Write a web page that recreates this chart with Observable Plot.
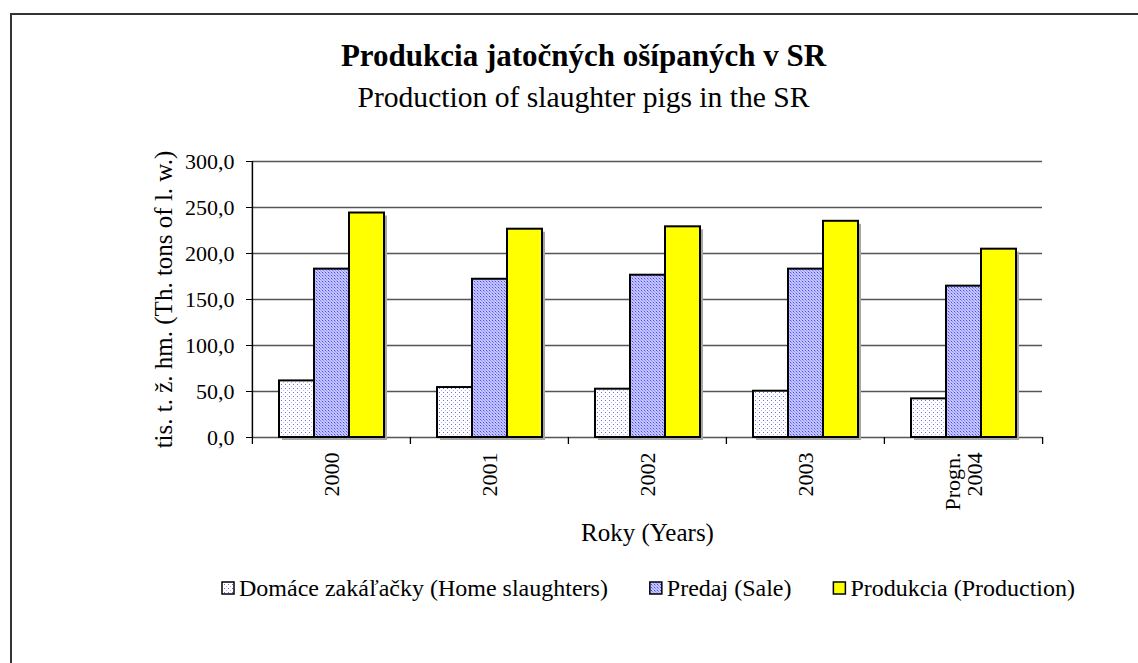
<!DOCTYPE html>
<html><head><meta charset="utf-8">
<script src="https://cdn.jsdelivr.net/npm/d3@7"></script>
<script src="https://cdn.jsdelivr.net/npm/@observablehq/plot@0.6"></script>
<style>
html,body{margin:0;padding:0;background:#fff;}
body{width:1138px;height:663px;position:relative;overflow:hidden;font-family:"Liberation Serif",serif;}
#border{position:absolute;left:10px;top:13px;width:1200px;height:700px;border-top:2px solid #333;border-left:2px solid #333;}
#head,#chart,#legend{position:absolute;left:0;}
#head{top:0}
#chart{top:140px}
#legend{top:560px}
svg text{font-family:"Liberation Serif",serif;}
</style></head><body>
<svg width="0" height="0" style="position:absolute;left:0;top:0"><defs>
<pattern id="patHome" width="4" height="4" patternUnits="userSpaceOnUse">
<rect width="4" height="4" fill="#ffffff"/>
<rect x="0" y="0" width="1" height="1" fill="#6a6aff"/>
<rect x="2" y="2" width="1" height="1" fill="#b4b4ff"/>
</pattern>
<pattern id="patSale" width="3" height="3" patternUnits="userSpaceOnUse">
<rect width="3" height="3" fill="#c6c6ff"/>
<rect x="0" y="0" width="1" height="1" fill="#4848ff"/>
<rect x="1" y="1" width="1" height="1" fill="#8888ff"/>
<rect x="2" y="2" width="1" height="1" fill="#a0a0ff"/>
</pattern>
</defs></svg>
<div id="border"></div>
<svg id="head" width="1138" height="140"></svg>
<div id="chart"></div>
<svg id="legend" width="1138" height="70"></svg>
<script>
const titleText = "Produkcia jatočných ošípaných v SR";
const subtitleText = "Production of slaughter pigs in the SR";
const xLabel = "Roky (Years)";
const yLabel = "tis. t. ž. hm. (Th. tons of l. w.)";
const years = ["2000", "2001", "2002", "2003", "Progn.\n2004"];
const series = ["Domáce zakáľačky (Home slaughters)", "Predaj (Sale)", "Produkcia (Production)"];
const homeSlaughters = [61.5, 54.3, 52.5, 50.3, 42.0];
const sale = [183.0, 172.0, 176.4, 183.0, 164.5];
const production = [244.0, 226.4, 229.0, 235.0, 204.7];
const yTicks = [0, 50, 100, 150, 200, 250, 300];
const seriesFills = ["url(#patHome)", "url(#patSale)", "#ffff00"];

const head = d3.select("#head");
head.append("text").attr("x", 583.5).attr("y", 66).attr("text-anchor", "middle")
  .attr("font-weight", "bold").attr("font-size", 31).text(titleText);
head.append("text").attr("x", 583.5).attr("y", 107).attr("text-anchor", "middle")
  .attr("font-size", 29.6).text(subtitleText);

const rows = years.flatMap((year, i) => [
  {year, series: series[0], value: homeSlaughters[i]},
  {year, series: series[1], value: sale[i]},
  {year, series: series[2], value: production[i]}
]);

const W = 1138, H = 420, mL = 251, mR = 96, mT = 21, mB = 123;
const bw = (W - mL - mR) / years.length;
const fmt = d => d.toFixed(1).replace(".", ",");

const chart = Plot.plot({
  width: W, height: H,
  marginLeft: mL, marginRight: mR, marginTop: mT, marginBottom: mB,
  style: {fontFamily: '"Liberation Serif", serif', fontSize: "22px", color: "#000", background: "transparent", overflow: "visible"},
  fx: {domain: years, padding: 0},
  x: {domain: series, paddingInner: 0, paddingOuter: 0.74, axis: null},
  y: {domain: [0, 300], axis: null},
  color: {domain: series, range: seriesFills},
  marks: [
    Plot.gridY(yTicks, {stroke: "#555", strokeOpacity: 1, strokeWidth: 1.3}),
    Plot.barY(rows, {fx: "year", x: "series", y: "value", fill: "#a6a6a6", dx: 3, dy: 3}),
    Plot.barY(rows, {fx: "year", x: "series", y: "value", fill: "series", stroke: "#000", strokeWidth: 2}),
    Plot.ruleX(years.slice(0, 1), {fx: d => d, x: null, y1: 0, y2: 300, dx: -bw / 2, stroke: "#000", strokeWidth: 1.5}),
    Plot.ruleX(years, {fx: d => d, x: null, y1: 0, y2: 0, insetBottom: -7, dx: -bw / 2, stroke: "#000", strokeWidth: 1.3}),
    Plot.ruleX(years.slice(-1), {fx: d => d, x: null, y1: 0, y2: 0, insetBottom: -7, dx: bw / 2, stroke: "#000", strokeWidth: 1.3}),
    Plot.axisY(yTicks, {tickSize: 6, tickPadding: 12, tickFormat: fmt, label: yLabel, labelAnchor: "center", labelOffset: 98, labelArrow: "none"}),
    Plot.axisFx({anchor: "bottom", tickSize: 0, tickPadding: 15, tickRotate: -90, label: xLabel, labelAnchor: "center", labelOffset: 103})
  ]
});
document.getElementById("chart").appendChild(chart);
d3.select(chart).selectAll('[aria-label="y-axis label"] text, [aria-label="fx-axis label"] text')
  .attr("font-size", 25);

// legend: entries spread evenly between the left and right ends of the original legend
const legendLeft = 222, legendRight = 1075;
const lg = d3.select("#legend");
const cy = 28;
const items = series.map((s, i) => {
  const r = lg.append("rect").attr("y", cy - 6).attr("width", 12).attr("height", 12)
    .attr("fill", seriesFills[i]).attr("stroke", "#000").attr("stroke-width", 1.5);
  const t = lg.append("text").attr("y", cy).attr("dy", "0.35em").attr("font-size", 24).text(s);
  return {r, t, w: 17 + t.node().getComputedTextLength()};
});
const gap = (legendRight - legendLeft - d3.sum(items, d => d.w)) / (items.length - 1);
let lx = legendLeft;
items.forEach(({r, t, w}) => {
  r.attr("x", lx);
  t.attr("x", lx + 17);
  lx += w + gap;
});
</script>
</body></html>
